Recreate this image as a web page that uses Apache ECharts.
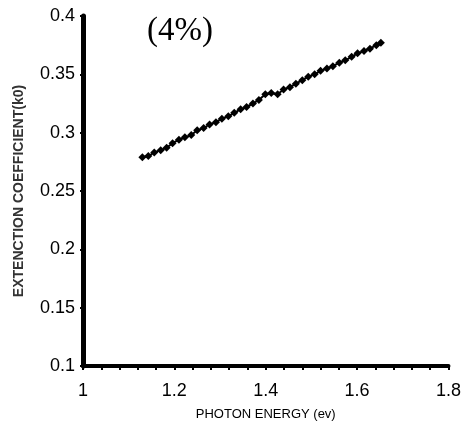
<!DOCTYPE html>
<html>
<head>
<meta charset="utf-8">
<script src="https://cdn.jsdelivr.net/npm/echarts@6/dist/echarts.min.js"></script>
<style>html,body{margin:0;padding:0;background:#fff}#c{width:464px;height:435px}</style>
</head>
<body>
<div id="c"></div>
<script>
const titleText = '(4%)';
const xAxisName = 'PHOTON ENERGY (ev)';
const yAxisName = 'EXTENCTION COEFFICIENT(k0)';
const photonEnergy = [1.130,1.143,1.156,1.170,1.183,1.196,1.210,1.223,1.237,1.250,1.264,1.277,1.291,1.304,1.318,1.331,1.345,1.358,1.372,1.385,1.399,1.412,1.426,1.439,1.453,1.466,1.480,1.493,1.507,1.520,1.534,1.547,1.561,1.574,1.588,1.601,1.615,1.628,1.642,1.652];
const extinction = [0.279,0.280,0.283,0.285,0.287,0.291,0.294,0.296,0.298,0.302,0.304,0.307,0.309,0.312,0.314,0.317,0.320,0.322,0.325,0.328,0.333,0.334,0.333,0.337,0.339,0.342,0.345,0.348,0.350,0.353,0.355,0.357,0.360,0.362,0.365,0.368,0.370,0.372,0.375,0.377];
const xTicks = [1, 1.2, 1.4, 1.6, 1.8];
const yTicks = [0.1, 0.15, 0.2, 0.25, 0.3, 0.35, 0.4];

const chart = echarts.init(document.getElementById('c'), null, {renderer: 'canvas'});
const font = 'Liberation Sans, Arial, sans-serif';
chart.setOption({
  animation: false,
  backgroundColor: '#fff',
  title: {
    text: titleText,
    left: 175, top: 10, textAlign: 'center',
    textStyle: {fontFamily: 'Liberation Serif, Times New Roman, serif', fontSize: 33, fontWeight: 'normal', color: '#000'}
  },
  grid: {left: 83, right: 14, top: 16, bottom: 69, containLabel: false},
  xAxis: {
    type: 'value',
    min: xTicks[0], max: xTicks[xTicks.length - 1], interval: 0.2,
    name: xAxisName, nameLocation: 'middle', nameGap: 42,
    nameTextStyle: {fontFamily: font, fontSize: 13, color: '#000'},
    axisLine: {show: true, onZero: false, lineStyle: {color: '#000', width: 4}},
    axisTick: {show: true, length: 4, lineStyle: {color: '#000', width: 2}},
    minorTick: {show: true, splitNumber: 5, length: 4, lineStyle: {color: '#000', width: 2}},
    axisLabel: {fontFamily: font, fontSize: 18, color: '#000', margin: 16,
      formatter: v => String(parseFloat(v.toFixed(2)))},
    splitLine: {show: false}
  },
  yAxis: {
    type: 'value',
    min: yTicks[0], max: yTicks[yTicks.length - 1], interval: 0.05,
    name: yAxisName, nameLocation: 'middle', nameGap: 57, nameRotate: 90,
    nameTextStyle: {fontFamily: font, fontSize: 14, fontWeight: 'bold', color: '#333'},
    axisLine: {show: true, onZero: false, lineStyle: {color: '#000', width: 5}},
    axisTick: {show: true, length: 3, lineStyle: {color: '#000', width: 2}},
    axisLabel: {fontFamily: font, fontSize: 18, color: '#000', margin: 8,
      formatter: v => String(parseFloat(v.toFixed(2)))},
    splitLine: {show: false}
  },
  series: [{
    type: 'line',
    data: photonEnergy.map((x, i) => [x, extinction[i]]),
    symbol: 'diamond', symbolSize: 8,
    itemStyle: {color: '#000'},
    lineStyle: {color: '#000', width: 2}
  }]
});
</script>
</body>
</html>
